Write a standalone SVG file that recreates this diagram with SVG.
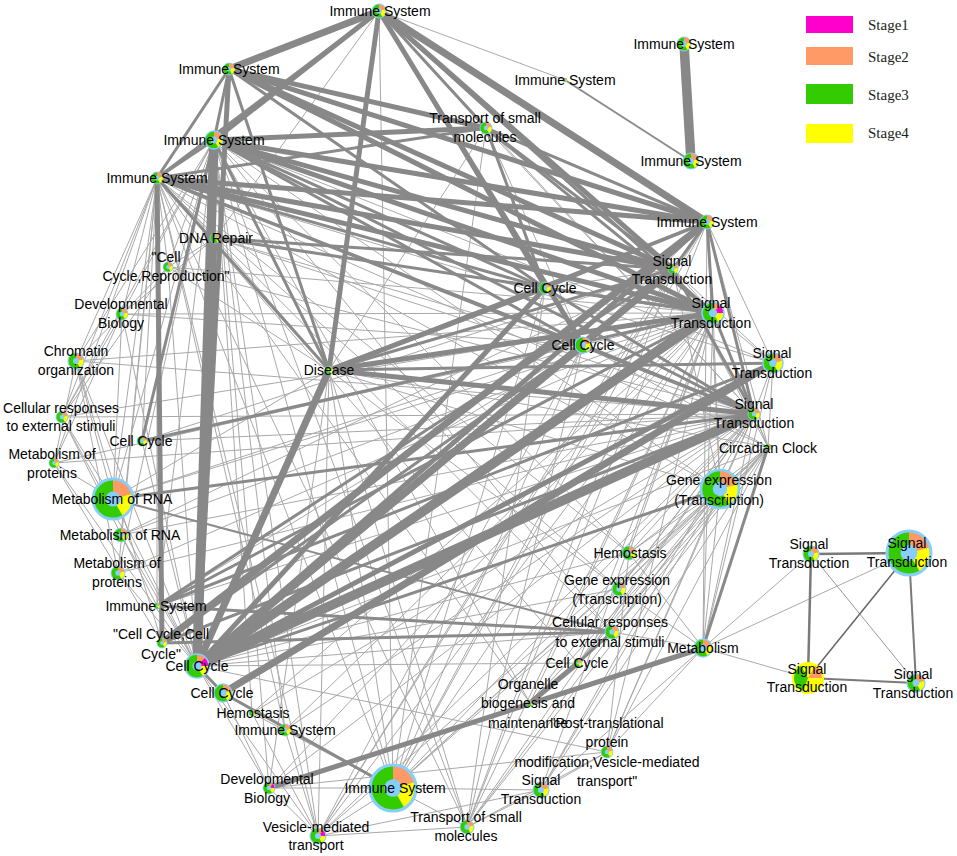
<svg xmlns="http://www.w3.org/2000/svg" width="957" height="856" viewBox="0 0 957 856">
<style>
.e1 line{stroke:#a9a9a9;stroke-width:1}
.e2 line{stroke:#8c8c8c;stroke-width:2}
.e3 line{stroke:#8a8a8a;stroke-width:3}
.e5 line{stroke:#888;stroke-width:5}
.e7 line{stroke:#888;stroke-width:7}
.e10 line{stroke:#888;stroke-width:9.5}
.rc line{stroke:#7a7a7a}
.lb{font-family:"Liberation Sans",Arial,sans-serif;font-size:14px;text-anchor:middle;fill:#000}
.lg{font-family:"Liberation Serif","Times New Roman",serif;font-size:15px;fill:#222}
</style>
<defs>
<g id="pA">
<circle r="1" fill="#33cc00"/>
<path d="M0 0V-1A1 1 0 0 1 .966 -.259Z" fill="#ff9966"/>
<path d="M0 0L.966 -.259A1 1 0 0 1 .5 .866Z" fill="#ffff00"/>
<circle r=".38" fill="#87cefa"/>
<circle r="1" fill="none" stroke="#87cefa" stroke-width=".14"/>
</g>
<g id="pB">
<circle r="1" fill="#33cc00"/>
<path d="M0 0V-1A1 1 0 0 1 .707 -.707Z" fill="#ff9966"/>
<path d="M0 0L.707 -.707A1 1 0 0 1 1 0Z" fill="#ff00cc"/>
<path d="M0 0L1 0A1 1 0 0 1 .5 .866Z" fill="#ffff00"/>
<circle r=".38" fill="#87cefa"/>
<circle r="1" fill="none" stroke="#87cefa" stroke-width=".14"/>
</g>
<g id="pY">
<circle r="1" fill="#ffff00"/>
<path d="M0 0L-.342 .94A1 1 0 0 1 -.5 -.866Z" fill="#33cc00"/>
<path d="M0 0L.5 -.866A1 1 0 0 1 1 0Z" fill="#ff9966"/>
<circle r="1" fill="none" stroke="#ffff00" stroke-width=".14"/>
</g>
</defs>
<rect width="957" height="856" fill="#fff"/>
<g id="connectors">
<g class="e1">
<line x1="168" y1="267" x2="157" y2="178"/><line x1="168" y1="267" x2="214" y2="140"/><line x1="168" y1="267" x2="713" y2="313"/><line x1="168" y1="267" x2="754" y2="414"/><line x1="168" y1="267" x2="197" y2="666"/><line x1="168" y1="267" x2="76" y2="361"/><line x1="168" y1="267" x2="62" y2="417"/><line x1="168" y1="267" x2="329" y2="370"/>
<line x1="122" y1="314" x2="157" y2="178"/><line x1="122" y1="314" x2="214" y2="140"/><line x1="122" y1="314" x2="197" y2="666"/><line x1="122" y1="314" x2="62" y2="417"/><line x1="122" y1="314" x2="54" y2="463"/><line x1="122" y1="314" x2="583" y2="345"/><line x1="122" y1="314" x2="713" y2="313"/><line x1="122" y1="314" x2="113" y2="499"/>
<line x1="76" y1="361" x2="157" y2="178"/><line x1="76" y1="361" x2="214" y2="140"/><line x1="76" y1="361" x2="197" y2="666"/><line x1="76" y1="361" x2="113" y2="499"/><line x1="76" y1="361" x2="54" y2="463"/><line x1="76" y1="361" x2="754" y2="414"/><line x1="76" y1="361" x2="713" y2="313"/><line x1="76" y1="361" x2="162" y2="643"/><line x1="76" y1="361" x2="118" y2="573"/>
<line x1="62" y1="417" x2="157" y2="178"/><line x1="62" y1="417" x2="113" y2="499"/><line x1="62" y1="417" x2="197" y2="666"/><line x1="62" y1="417" x2="713" y2="313"/><line x1="62" y1="417" x2="754" y2="414"/><line x1="62" y1="417" x2="214" y2="140"/><line x1="62" y1="417" x2="157" y2="606"/>
<line x1="142" y1="441" x2="157" y2="178"/><line x1="142" y1="441" x2="754" y2="414"/><line x1="142" y1="441" x2="197" y2="666"/><line x1="142" y1="441" x2="583" y2="345"/><line x1="142" y1="441" x2="673" y2="269"/>
<line x1="54" y1="463" x2="197" y2="666"/><line x1="54" y1="463" x2="713" y2="313"/><line x1="54" y1="463" x2="113" y2="499"/><line x1="54" y1="463" x2="162" y2="643"/><line x1="54" y1="463" x2="157" y2="178"/><line x1="54" y1="463" x2="754" y2="414"/>
<line x1="113" y1="499" x2="157" y2="178"/><line x1="113" y1="499" x2="197" y2="666"/><line x1="113" y1="499" x2="713" y2="313"/><line x1="113" y1="499" x2="214" y2="140"/><line x1="113" y1="499" x2="329" y2="370"/><line x1="113" y1="499" x2="583" y2="345"/>
<line x1="121" y1="535" x2="157" y2="178"/><line x1="121" y1="535" x2="197" y2="666"/><line x1="121" y1="535" x2="713" y2="313"/><line x1="121" y1="535" x2="754" y2="414"/><line x1="121" y1="535" x2="673" y2="269"/>
<line x1="118" y1="573" x2="157" y2="178"/><line x1="118" y1="573" x2="197" y2="666"/><line x1="118" y1="573" x2="713" y2="313"/><line x1="118" y1="573" x2="754" y2="414"/><line x1="118" y1="573" x2="214" y2="140"/>
<line x1="157" y1="606" x2="157" y2="178"/><line x1="157" y1="606" x2="214" y2="140"/><line x1="157" y1="606" x2="754" y2="414"/><line x1="157" y1="606" x2="583" y2="345"/>
<line x1="252" y1="713" x2="214" y2="140"/><line x1="252" y1="713" x2="713" y2="313"/><line x1="252" y1="713" x2="754" y2="414"/><line x1="252" y1="713" x2="393" y2="788"/><line x1="252" y1="713" x2="318" y2="836"/>
<line x1="285" y1="730" x2="214" y2="140"/><line x1="285" y1="730" x2="713" y2="313"/><line x1="285" y1="730" x2="754" y2="414"/><line x1="285" y1="730" x2="318" y2="836"/><line x1="285" y1="730" x2="393" y2="788"/><line x1="285" y1="730" x2="157" y2="178"/>
<line x1="269" y1="788" x2="197" y2="666"/><line x1="269" y1="788" x2="214" y2="140"/><line x1="269" y1="788" x2="713" y2="313"/><line x1="269" y1="788" x2="754" y2="414"/><line x1="269" y1="788" x2="318" y2="836"/><line x1="269" y1="788" x2="393" y2="788"/><line x1="269" y1="788" x2="329" y2="370"/><line x1="269" y1="788" x2="223" y2="693"/>
<line x1="393" y1="788" x2="379" y2="11"/><line x1="393" y1="788" x2="214" y2="140"/><line x1="393" y1="788" x2="157" y2="178"/><line x1="393" y1="788" x2="713" y2="313"/><line x1="393" y1="788" x2="754" y2="414"/><line x1="393" y1="788" x2="673" y2="269"/><line x1="393" y1="788" x2="329" y2="370"/><line x1="393" y1="788" x2="545" y2="288"/><line x1="393" y1="788" x2="583" y2="345"/><line x1="393" y1="788" x2="707" y2="222"/><line x1="393" y1="788" x2="467" y2="827"/><line x1="393" y1="788" x2="318" y2="836"/><line x1="393" y1="788" x2="541" y2="790"/><line x1="393" y1="788" x2="768" y2="447"/><line x1="393" y1="788" x2="720" y2="489"/><line x1="393" y1="788" x2="619" y2="589"/>
<line x1="318" y1="836" x2="157" y2="178"/><line x1="318" y1="836" x2="214" y2="140"/><line x1="318" y1="836" x2="713" y2="313"/><line x1="318" y1="836" x2="754" y2="414"/><line x1="318" y1="836" x2="583" y2="345"/><line x1="318" y1="836" x2="329" y2="370"/><line x1="318" y1="836" x2="197" y2="666"/><line x1="318" y1="836" x2="467" y2="827"/><line x1="318" y1="836" x2="541" y2="790"/><line x1="318" y1="836" x2="707" y2="222"/><line x1="318" y1="836" x2="673" y2="269"/><line x1="318" y1="836" x2="720" y2="489"/>
<line x1="467" y1="827" x2="214" y2="140"/><line x1="467" y1="827" x2="713" y2="313"/><line x1="467" y1="827" x2="754" y2="414"/><line x1="467" y1="827" x2="583" y2="345"/><line x1="467" y1="827" x2="545" y2="288"/><line x1="467" y1="827" x2="329" y2="370"/><line x1="467" y1="827" x2="673" y2="269"/><line x1="467" y1="827" x2="707" y2="222"/><line x1="467" y1="827" x2="541" y2="790"/><line x1="467" y1="827" x2="607" y2="752"/><line x1="467" y1="827" x2="720" y2="489"/><line x1="467" y1="827" x2="768" y2="447"/><line x1="467" y1="827" x2="157" y2="178"/>
<line x1="541" y1="790" x2="713" y2="313"/><line x1="541" y1="790" x2="754" y2="414"/><line x1="541" y1="790" x2="768" y2="447"/><line x1="541" y1="790" x2="720" y2="489"/><line x1="541" y1="790" x2="703" y2="648"/><line x1="541" y1="790" x2="607" y2="752"/>
<line x1="607" y1="752" x2="768" y2="447"/><line x1="607" y1="752" x2="720" y2="489"/><line x1="607" y1="752" x2="703" y2="648"/><line x1="607" y1="752" x2="754" y2="414"/><line x1="607" y1="752" x2="713" y2="313"/><line x1="607" y1="752" x2="629" y2="553"/><line x1="607" y1="752" x2="197" y2="666"/><line x1="607" y1="752" x2="269" y2="788"/>
<line x1="530" y1="703" x2="768" y2="447"/><line x1="530" y1="703" x2="713" y2="313"/><line x1="530" y1="703" x2="754" y2="414"/><line x1="530" y1="703" x2="157" y2="178"/><line x1="530" y1="703" x2="214" y2="140"/>
<line x1="578" y1="663" x2="768" y2="447"/><line x1="578" y1="663" x2="720" y2="489"/><line x1="578" y1="663" x2="713" y2="313"/><line x1="578" y1="663" x2="157" y2="178"/><line x1="578" y1="663" x2="197" y2="666"/><line x1="578" y1="663" x2="754" y2="414"/>
<line x1="703" y1="648" x2="754" y2="414"/><line x1="703" y1="648" x2="720" y2="489"/><line x1="703" y1="648" x2="713" y2="313"/><line x1="703" y1="648" x2="707" y2="222"/><line x1="703" y1="648" x2="773" y2="363"/><line x1="703" y1="648" x2="629" y2="553"/><line x1="703" y1="648" x2="619" y2="589"/><line x1="703" y1="648" x2="612" y2="632"/>
<line x1="629" y1="553" x2="768" y2="447"/><line x1="629" y1="553" x2="720" y2="489"/><line x1="629" y1="553" x2="197" y2="666"/><line x1="629" y1="553" x2="157" y2="178"/><line x1="629" y1="553" x2="214" y2="140"/><line x1="629" y1="553" x2="713" y2="313"/><line x1="629" y1="553" x2="754" y2="414"/>
<line x1="619" y1="589" x2="768" y2="447"/><line x1="619" y1="589" x2="720" y2="489"/><line x1="619" y1="589" x2="197" y2="666"/><line x1="619" y1="589" x2="157" y2="178"/><line x1="619" y1="589" x2="329" y2="370"/><line x1="619" y1="589" x2="754" y2="414"/>
<line x1="612" y1="632" x2="768" y2="447"/><line x1="612" y1="632" x2="720" y2="489"/><line x1="612" y1="632" x2="157" y2="178"/><line x1="612" y1="632" x2="214" y2="140"/><line x1="612" y1="632" x2="197" y2="666"/>
<line x1="768" y1="447" x2="754" y2="414"/><line x1="768" y1="447" x2="713" y2="313"/><line x1="768" y1="447" x2="673" y2="269"/><line x1="768" y1="447" x2="157" y2="178"/><line x1="768" y1="447" x2="214" y2="140"/><line x1="768" y1="447" x2="197" y2="666"/><line x1="768" y1="447" x2="707" y2="222"/><line x1="768" y1="447" x2="329" y2="370"/><line x1="768" y1="447" x2="720" y2="489"/>
<line x1="720" y1="489" x2="754" y2="414"/><line x1="720" y1="489" x2="713" y2="313"/><line x1="720" y1="489" x2="673" y2="269"/><line x1="720" y1="489" x2="157" y2="178"/><line x1="720" y1="489" x2="707" y2="222"/><line x1="720" y1="489" x2="214" y2="140"/><line x1="720" y1="489" x2="329" y2="370"/>
<line x1="773" y1="363" x2="707" y2="222"/><line x1="773" y1="363" x2="713" y2="313"/><line x1="773" y1="363" x2="673" y2="269"/><line x1="773" y1="363" x2="754" y2="414"/><line x1="773" y1="363" x2="768" y2="447"/><line x1="773" y1="363" x2="157" y2="178"/><line x1="773" y1="363" x2="214" y2="140"/>
<line x1="215" y1="238" x2="157" y2="178"/><line x1="215" y1="238" x2="214" y2="140"/><line x1="215" y1="238" x2="168" y2="267"/><line x1="215" y1="238" x2="754" y2="414"/><line x1="215" y1="238" x2="583" y2="345"/><line x1="215" y1="238" x2="329" y2="370"/><line x1="215" y1="238" x2="122" y2="314"/>
<line x1="486" y1="128" x2="583" y2="345"/><line x1="486" y1="128" x2="754" y2="414"/><line x1="486" y1="128" x2="329" y2="370"/><line x1="486" y1="128" x2="393" y2="788"/>
<line x1="379" y1="11" x2="754" y2="414"/><line x1="379" y1="11" x2="215" y2="238"/><line x1="379" y1="11" x2="565" y2="80"/>
<line x1="673" y1="269" x2="713" y2="313"/><line x1="713" y1="313" x2="583" y2="345"/><line x1="707" y1="222" x2="583" y2="345"/><line x1="545" y1="288" x2="673" y2="269"/><line x1="545" y1="288" x2="583" y2="345"/>
</g>
<g class="e2">
<line x1="565" y1="80" x2="691" y2="161"/><line x1="113" y1="499" x2="612" y2="632"/>
</g>
<g class="e3">
<line x1="379" y1="11" x2="157" y2="178"/><line x1="379" y1="11" x2="545" y2="288"/><line x1="379" y1="11" x2="713" y2="313"/><line x1="229" y1="69" x2="214" y2="140"/><line x1="229" y1="69" x2="157" y2="178"/><line x1="229" y1="69" x2="545" y2="288"/><line x1="214" y1="140" x2="157" y2="178"/><line x1="214" y1="140" x2="545" y2="288"/><line x1="214" y1="140" x2="583" y2="345"/><line x1="157" y1="178" x2="545" y2="288"/><line x1="157" y1="178" x2="583" y2="345"/><line x1="157" y1="178" x2="754" y2="414"/><line x1="157" y1="178" x2="486" y2="128"/><line x1="486" y1="128" x2="707" y2="222"/><line x1="486" y1="128" x2="673" y2="269"/><line x1="486" y1="128" x2="713" y2="313"/><line x1="329" y1="370" x2="229" y2="69"/><line x1="329" y1="370" x2="214" y2="140"/><line x1="329" y1="370" x2="157" y2="178"/><line x1="329" y1="370" x2="673" y2="269"/><line x1="329" y1="370" x2="707" y2="222"/><line x1="545" y1="288" x2="707" y2="222"/><line x1="545" y1="288" x2="713" y2="313"/><line x1="707" y1="222" x2="673" y2="269"/><line x1="707" y1="222" x2="713" y2="313"/><line x1="707" y1="222" x2="754" y2="414"/><line x1="673" y1="269" x2="754" y2="414"/><line x1="713" y1="313" x2="754" y2="414"/><line x1="545" y1="288" x2="754" y2="414"/><line x1="583" y1="345" x2="754" y2="414"/><line x1="215" y1="238" x2="713" y2="313"/><line x1="215" y1="238" x2="673" y2="269"/><line x1="157" y1="606" x2="713" y2="313"/><line x1="157" y1="606" x2="673" y2="269"/><line x1="162" y1="643" x2="583" y2="345"/><line x1="223" y1="693" x2="393" y2="788"/><line x1="197" y1="666" x2="223" y2="693"/><line x1="379" y1="11" x2="486" y2="128"/><line x1="578" y1="663" x2="612" y2="632"/><line x1="214" y1="140" x2="754" y2="414"/><line x1="142" y1="441" x2="713" y2="313"/><line x1="142" y1="441" x2="214" y2="140"/><line x1="703" y1="648" x2="768" y2="447"/><line x1="162" y1="643" x2="754" y2="414"/><line x1="157" y1="606" x2="773" y2="363"/><line x1="197" y1="666" x2="720" y2="489"/><line x1="113" y1="499" x2="754" y2="414"/><line x1="329" y1="370" x2="773" y2="363"/><line x1="486" y1="128" x2="545" y2="288"/><line x1="157" y1="606" x2="612" y2="632"/><line x1="162" y1="643" x2="612" y2="632"/>
</g>
<g class="e5">
<line x1="197" y1="666" x2="545" y2="288"/><line x1="197" y1="666" x2="707" y2="222"/><line x1="197" y1="666" x2="773" y2="363"/><line x1="379" y1="11" x2="329" y2="370"/><line x1="379" y1="11" x2="214" y2="140"/><line x1="229" y1="69" x2="707" y2="222"/><line x1="214" y1="140" x2="707" y2="222"/><line x1="214" y1="140" x2="673" y2="269"/><line x1="157" y1="178" x2="673" y2="269"/><line x1="229" y1="69" x2="673" y2="269"/><line x1="329" y1="370" x2="754" y2="414"/><line x1="329" y1="370" x2="713" y2="313"/><line x1="157" y1="178" x2="162" y2="643"/><line x1="215" y1="238" x2="197" y2="666"/><line x1="229" y1="69" x2="197" y2="666"/><line x1="379" y1="11" x2="583" y2="345"/><line x1="379" y1="11" x2="673" y2="269"/><line x1="214" y1="140" x2="713" y2="313"/><line x1="157" y1="178" x2="713" y2="313"/><line x1="229" y1="69" x2="713" y2="313"/><line x1="329" y1="370" x2="545" y2="288"/><line x1="269" y1="788" x2="703" y2="648"/><line x1="530" y1="703" x2="578" y2="663"/><line x1="214" y1="140" x2="486" y2="128"/><line x1="157" y1="178" x2="707" y2="222"/><line x1="229" y1="69" x2="486" y2="128"/>
</g>
<g class="e7">
<line x1="197" y1="666" x2="673" y2="269"/><line x1="197" y1="666" x2="583" y2="345"/><line x1="329" y1="370" x2="197" y2="666"/><line x1="379" y1="11" x2="229" y2="69"/><line x1="379" y1="11" x2="707" y2="222"/><line x1="223" y1="693" x2="773" y2="363"/><line x1="162" y1="643" x2="707" y2="222"/>
</g>
<g class="e10">
<line x1="197" y1="666" x2="713" y2="313"/><line x1="197" y1="666" x2="754" y2="414"/><line x1="214" y1="140" x2="197" y2="666"/><line x1="684" y1="44" x2="691" y2="161"/>
</g>
<g class="rc">
<line x1="703" y1="648" x2="811" y2="554" stroke-width="1" style="stroke:#aaa"/><line x1="703" y1="648" x2="909" y2="553" stroke-width="1" style="stroke:#aaa"/><line x1="703" y1="648" x2="808" y2="678" stroke-width="1" style="stroke:#aaa"/>
<line x1="811" y1="554" x2="916" y2="683" stroke-width="1" style="stroke:#999"/>
<line x1="811" y1="554" x2="909" y2="553" stroke-width="2.5"/><line x1="811" y1="554" x2="808" y2="678" stroke-width="2.5"/><line x1="909" y1="553" x2="916" y2="683" stroke-width="2"/><line x1="808" y1="678" x2="916" y2="683" stroke-width="2"/><line x1="909" y1="553" x2="808" y2="678" stroke-width="1.5" style="stroke:#666"/>
</g>
</g>
<g id="legend">
<rect x="806" y="16" width="47" height="17" fill="#ff00cc"/><text class="lg" x="868" y="30">Stage1</text>
<rect x="806" y="47" width="47" height="18" fill="#ff9966"/><text class="lg" x="868" y="62">Stage2</text>
<rect x="806" y="84" width="47" height="20" fill="#33cc00"/><text class="lg" x="868" y="100">Stage3</text>
<rect x="806" y="124" width="47" height="19" fill="#ffff00"/><text class="lg" x="868" y="138">Stage4</text>
</g>
<g id="nodes">
<g id="n1"><use href="#pA" transform="translate(379 11) scale(7)"/><text class="lb" x="380" y="16">Immune System</text></g>
<g id="n2"><use href="#pA" transform="translate(229 69) scale(6)"/><text class="lb" x="229" y="74">Immune System</text></g>
<g id="n3"><use href="#pA" transform="translate(214 140) scale(9)"/><text class="lb" x="214" y="145">Immune System</text></g>
<g id="n4"><use href="#pA" transform="translate(157 178) scale(6)"/><text class="lb" x="157" y="183">Immune System</text></g>
<g id="n5"><use href="#pA" transform="translate(486 128) scale(6)"/><text class="lb" x="485"><tspan x="485" y="123">Transport of small</tspan><tspan x="485" y="142">molecules</tspan></text></g>
<g id="n6"><use href="#pA" transform="translate(215 238) scale(5)"/><text class="lb" x="216" y="243">DNA Repair</text></g>
<g id="n7"><use href="#pA" transform="translate(168 267) scale(5)"/><text class="lb" x="166"><tspan x="166" y="262">"Cell</tspan><tspan x="166" y="281">Cycle,Reproduction"</tspan></text></g>
<g id="n8"><use href="#pA" transform="translate(122 314) scale(6)"/><text class="lb" x="121"><tspan x="121" y="309">Developmental</tspan><tspan x="121" y="328">Biology</tspan></text></g>
<g id="n9"><use href="#pA" transform="translate(76 361) scale(8)"/><text class="lb" x="76"><tspan x="76" y="356">Chromatin</tspan><tspan x="76" y="375">organization</tspan></text></g>
<g id="n10"><use href="#pA" transform="translate(329 370) scale(4)"/><text class="lb" x="329" y="375">Disease</text></g>
<g id="n11"><use href="#pA" transform="translate(545 288) scale(6)"/><text class="lb" x="545" y="293">Cell Cycle</text></g>
<g id="n12"><use href="#pA" transform="translate(684 44) scale(7)"/><text class="lb" x="684" y="49">Immune System</text></g>
<g id="n13"><use href="#pA" transform="translate(565 80) scale(2)"/><text class="lb" x="565" y="85">Immune System</text></g>
<g id="n14"><use href="#pA" transform="translate(691 161) scale(8)"/><text class="lb" x="691" y="166">Immune System</text></g>
<g id="n15"><use href="#pA" transform="translate(707 222) scale(7)"/><text class="lb" x="707" y="227">Immune System</text></g>
<g id="n16"><use href="#pA" transform="translate(673 269) scale(5)"/><text class="lb" x="672"><tspan x="672" y="266">Signal</tspan><tspan x="672" y="284">Transduction</tspan></text></g>
<g id="n17"><use href="#pB" transform="translate(713 313) scale(11)"/><text class="lb" x="711"><tspan x="711" y="308">Signal</tspan><tspan x="711" y="328">Transduction</tspan></text></g>
<g id="n18"><use href="#pA" transform="translate(583 345) scale(8)"/><text class="lb" x="583" y="350">Cell Cycle</text></g>
<g id="n19"><use href="#pA" transform="translate(773 363) scale(10)"/><text class="lb" x="772"><tspan x="772" y="358">Signal</tspan><tspan x="772" y="378">Transduction</tspan></text></g>
<g id="n20"><use href="#pA" transform="translate(754 414) scale(6)"/><text class="lb" x="754"><tspan x="754" y="409">Signal</tspan><tspan x="754" y="428">Transduction</tspan></text></g>
<g id="n21"><use href="#pA" transform="translate(768 447) scale(3)"/><text class="lb" x="768" y="453">Circadian Clock</text></g>
<g id="n22"><use href="#pA" transform="translate(720 489) scale(19)"/><text class="lb" x="719"><tspan x="719" y="485">Gene expression</tspan><tspan x="719" y="505">(Transcription)</tspan></text></g>
<g id="n23"><use href="#pA" transform="translate(62 417) scale(6)"/><text class="lb" x="61"><tspan x="61" y="413">Cellular responses</tspan><tspan x="61" y="431">to external stimuli</tspan></text></g>
<g id="n24"><use href="#pA" transform="translate(142 441) scale(5)"/><text class="lb" x="141" y="446">Cell Cycle</text></g>
<g id="n25"><use href="#pA" transform="translate(54 463) scale(5)"/><text class="lb" x="52"><tspan x="52" y="459">Metabolism of</tspan><tspan x="52" y="478">proteins</tspan></text></g>
<g id="n26"><use href="#pA" transform="translate(113 499) scale(20)"/><text class="lb" x="112" y="504">Metabolism of RNA</text></g>
<g id="n27"><use href="#pA" transform="translate(121 535) scale(7)"/><text class="lb" x="120" y="540">Metabolism of RNA</text></g>
<g id="n28"><use href="#pA" transform="translate(118 573) scale(7)"/><text class="lb" x="117"><tspan x="117" y="568">Metabolism of</tspan><tspan x="117" y="587">proteins</tspan></text></g>
<g id="n29"><use href="#pA" transform="translate(157 606) scale(3)"/><text class="lb" x="156" y="611">Immune System</text></g>
<g id="n30"><use href="#pA" transform="translate(162 643) scale(5)"/><text class="lb" x="161"><tspan x="161" y="639">"Cell Cycle,Cell</tspan><tspan x="161" y="659">Cycle"</tspan></text></g>
<g id="n31"><use href="#pB" transform="translate(197 666) scale(12)"/><text class="lb" x="197" y="671">Cell Cycle</text></g>
<g id="n32"><use href="#pA" transform="translate(223 693) scale(9)"/><text class="lb" x="222" y="698">Cell Cycle</text></g>
<g id="n33"><use href="#pA" transform="translate(252 713) scale(3)"/><text class="lb" x="253" y="718">Hemostasis</text></g>
<g id="n34"><use href="#pA" transform="translate(285 730) scale(6)"/><text class="lb" x="285" y="735">Immune System</text></g>
<g id="n35"><use href="#pB" transform="translate(269 788) scale(6)"/><text class="lb" x="267"><tspan x="267" y="784">Developmental</tspan><tspan x="267" y="803">Biology</tspan></text></g>
<g id="n36"><use href="#pA" transform="translate(393 788) scale(23)"/><text class="lb" x="395" y="793">Immune System</text></g>
<g id="n37"><use href="#pB" transform="translate(318 836) scale(8)"/><text class="lb" x="316"><tspan x="316" y="832">Vesicle-mediated</tspan><tspan x="316" y="850">transport</tspan></text></g>
<g id="n38"><use href="#pA" transform="translate(467 827) scale(7)"/><text class="lb" x="466"><tspan x="466" y="822">Transport of small</tspan><tspan x="466" y="841">molecules</tspan></text></g>
<g id="n39"><use href="#pA" transform="translate(541 790) scale(8)"/><text class="lb" x="541"><tspan x="541" y="785">Signal</tspan><tspan x="541" y="804">Transduction</tspan></text></g>
<g id="n41"><use href="#pA" transform="translate(530 703) scale(3)"/><text class="lb" x="528"><tspan x="528" y="689">Organelle</tspan><tspan x="528" y="708">biogenesis and</tspan><tspan x="528" y="728">maintenance</tspan></text></g>
<g id="n40"><use href="#pA" transform="translate(607 752) scale(6)"/><text class="lb" x="607"><tspan x="607" y="728">"Post-translational</tspan><tspan x="607" y="747">protein</tspan><tspan x="607" y="767">modification,Vesicle-mediated</tspan><tspan x="607" y="786">transport"</tspan></text></g>
<g id="n42"><use href="#pA" transform="translate(578 663) scale(4)"/><text class="lb" x="577" y="668">Cell Cycle</text></g>
<g id="n43"><use href="#pA" transform="translate(703 648) scale(9)"/><text class="lb" x="703" y="653">Metabolism</text></g>
<g id="n44"><use href="#pA" transform="translate(629 553) scale(7)"/><text class="lb" x="630" y="558">Hemostasis</text></g>
<g id="n45"><use href="#pA" transform="translate(619 589) scale(7)"/><text class="lb" x="617"><tspan x="617" y="585">Gene expression</tspan><tspan x="617" y="604">(Transcription)</tspan></text></g>
<g id="n46"><use href="#pA" transform="translate(612 632) scale(7)"/><text class="lb" x="610"><tspan x="610" y="627">Cellular responses</tspan><tspan x="610" y="647">to external stimuli</tspan></text></g>
<g id="n47"><use href="#pA" transform="translate(811 554) scale(8)"/><text class="lb" x="809"><tspan x="809" y="549">Signal</tspan><tspan x="809" y="568">Transduction</tspan></text></g>
<g id="n48"><use href="#pA" transform="translate(909 553) scale(22)"/><text class="lb" x="907"><tspan x="907" y="548">Signal</tspan><tspan x="907" y="567">Transduction</tspan></text></g>
<g id="n49"><use href="#pY" transform="translate(808 678) scale(15)"/><text class="lb" x="807"><tspan x="807" y="674">Signal</tspan><tspan x="807" y="692">Transduction</tspan></text></g>
<g id="n50"><use href="#pA" transform="translate(916 683) scale(9)"/><text class="lb" x="913"><tspan x="913" y="679">Signal</tspan><tspan x="913" y="698">Transduction</tspan></text></g>
</g>
</svg>
